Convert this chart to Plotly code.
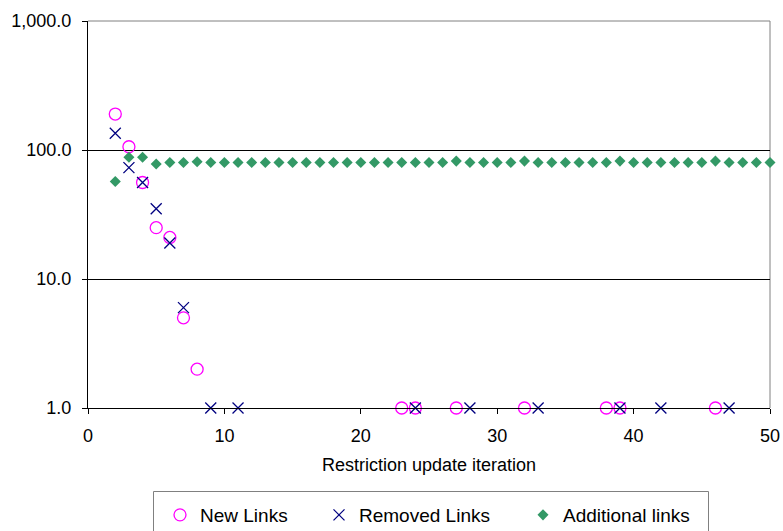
import plotly.graph_objects as go

# Iterations at which links were created / removed, and the counts
new_x = [2, 3, 4, 5, 6, 7, 8, 23, 24, 27, 32, 38, 39, 46]
new_y = [190, 106, 56, 25, 21, 5, 2, 1, 1, 1, 1, 1, 1, 1]

removed_x = [2, 3, 4, 5, 6, 7, 9, 11, 24, 28, 33, 39, 42, 47]
removed_y = [135, 73, 56, 35, 19, 6, 1, 1, 1, 1, 1, 1, 1, 1]

additional_x = list(range(2, 51))
additional_y = [57, 88, 88, 78, 80, 80, 81,
                80, 80, 80, 80, 80, 80, 80, 80, 80, 80, 80, 80, 80, 80, 80, 80, 80, 80,
                82, 80, 80, 80, 80, 82, 80, 80, 80, 80, 80, 80, 82, 80, 80, 80, 80, 80,
                80, 82, 80, 80, 80, 80]

x_ticks = [0, 10, 20, 30, 40, 50]
y_ticks = [1, 10, 100, 1000]

FONT = "Liberation Sans, Arial, sans-serif"
W, H = 783, 531
ML, MR, MT, MB = 88, 13, 21, 123
PW, PH = W - ML - MR, H - MT - MB


def px_x(p):
    return (p - ML) / PW


def px_y(p):
    return (H - MB - p) / PH


fig = go.Figure()

fig.add_trace(go.Scatter(
    x=new_x, y=new_y, mode="markers", name="New Links", legend="legend",
    marker=dict(symbol="circle-open", size=12, color="#FF00FF", line=dict(width=1.3)),
    cliponaxis=False,
))
fig.add_trace(go.Scatter(
    x=removed_x, y=removed_y, mode="markers", name="Removed Links", legend="legend2",
    marker=dict(symbol="x-thin-open", size=11, color="#000080", line=dict(width=1.3, color="#000080")),
    cliponaxis=False,
))
fig.add_trace(go.Scatter(
    x=additional_x, y=additional_y, mode="markers", name="Additional links", legend="legend3",
    marker=dict(symbol="diamond", size=8.5, color="#339966", line=dict(width=0)),
    cliponaxis=False,
))

legend_common = dict(
    orientation="h", yanchor="middle", xanchor="left",
    bgcolor="rgba(0,0,0,0)", borderwidth=0,
    font=dict(family=FONT, size=19, color="black"),
)
legend_y = px_y(515)

fig.update_layout(
    width=W, height=H,
    showlegend=True,
    margin=dict(l=ML, r=MR, t=MT, b=MB, pad=0, autoexpand=False),
    paper_bgcolor="white", plot_bgcolor="white",
    font=dict(family=FONT, size=18, color="black"),
    legend=dict(x=px_x(160), y=legend_y, **legend_common),
    legend2=dict(x=px_x(319), y=legend_y, **legend_common),
    legend3=dict(x=px_x(523), y=legend_y, **legend_common),
    xaxis=dict(
        range=[0, 50], tickvals=x_ticks, ticktext=[str(v) for v in x_ticks],
        showline=True, linecolor="black", linewidth=1,
        ticks="outside", ticklen=5, tickcolor="black", tickwidth=1,
        ticklabelstandoff=6,
        showgrid=False, zeroline=False,
        tickfont=dict(family=FONT, size=18, color="black"),
        title=dict(text="Restriction update iteration", standoff=13,
                   font=dict(family=FONT, size=18, color="black")),
    ),
    yaxis=dict(
        type="log", range=[0, 3], tickvals=y_ticks, tickformat=",.1f",
        showline=True, linecolor="black", linewidth=1,
        ticks="outside", ticklen=5, tickcolor="black", tickwidth=1,
        ticklabelstandoff=7,
        showgrid=True, gridcolor="black", gridwidth=1, zeroline=False,
        tickfont=dict(family=FONT, size=18, color="black"),
    ),
    shapes=[
        # plot-area frame on the top and right
        dict(type="line", xref="paper", yref="paper", x0=0, x1=1, y0=1, y1=1,
             line=dict(color="#808080", width=1), layer="above"),
        dict(type="line", xref="paper", yref="paper", x0=1, x1=1, y0=0, y1=1,
             line=dict(color="#808080", width=1), layer="below"),
        # legend box
        dict(type="rect", xref="paper", yref="paper",
             x0=px_x(153.5), x1=px_x(708.5), y0=px_y(545), y1=px_y(491.5),
             line=dict(color="#808080", width=1), fillcolor="rgba(0,0,0,0)"),
    ],
)

fig.write_html("out.html")
